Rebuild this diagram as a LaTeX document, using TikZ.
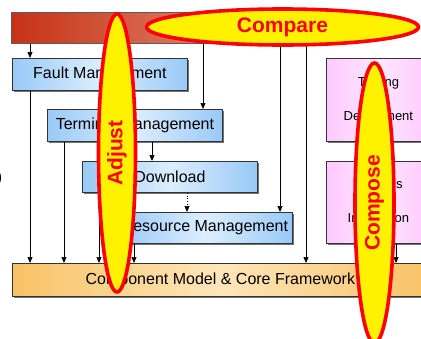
\documentclass[tikz,border=0pt]{standalone}
\usepackage{fontspec}
\setmainfont{Liberation Sans}
\usetikzlibrary{arrows.meta,shadows,calc}
\definecolor{barL}{HTML}{C63216}
\definecolor{barR}{HTML}{EAA48C}
\definecolor{blueE}{HTML}{99C9F7}
\definecolor{blueM}{HTML}{DCEEFF}
\definecolor{pinkE}{HTML}{FFC8FF}
\definecolor{pinkM}{HTML}{FFE8FF}
\definecolor{orE}{HTML}{F8C266}
\definecolor{orM}{HTML}{FEE6BA}
\definecolor{edge}{HTML}{333333}
\tikzset{
  boxbase/.style={anchor=north west, inner sep=0pt, draw=edge, line width=0.8pt,
    drop shadow={shadow xshift=1.6pt, shadow yshift=-1.6pt, opacity=0.55, fill=black}},
  bluebox/.style={boxbase, minimum width=175pt, minimum height=32pt,
    left color=blueE, right color=blueE, middle color=blueM,
    font=\fontsize{16}{19}\selectfont},
  pinkbox/.style={boxbase, minimum width=104pt, minimum height=83pt, align=center,
    left color=pinkE, right color=pinkE, middle color=pinkM,
    font=\fontsize{13}{15.6}\selectfont},
  orbox/.style={boxbase, minimum width=416pt, minimum height=33pt,
    left color=orE, right color=orE, middle color=orM,
    font=\fontsize{16}{19}\selectfont},
  topbar/.style={anchor=north west, inner sep=0pt, draw=edge!80, line width=0.8pt,
    minimum width=309pt, minimum height=31pt, left color=barL, right color=barR},
  arr/.style={line width=0.7pt, -{Triangle[length=6pt,width=5pt]}},
  bubble/.style={ellipse, draw=red, fill=yellow, line width=3.6pt, inner sep=0pt,
    text=red, font=\fontsize{21}{25}\selectfont\bfseries},
}
\usetikzlibrary{shapes.geometric}
\begin{document}
\begin{tikzpicture}[x=1pt,y=-1pt]
\useasboundingbox (0,0) rectangle (421,338);
\clip (0,0) rectangle (421,338);
% boxes
\node[topbar] (bar) at (11,12) {};
\node[bluebox] (fault) at (12,58) {Fault Management};
\node[bluebox] (term) at (47,109) {Terminal Management};
\node[bluebox, minimum height=31pt] (down) at (82,161) {Download};
\node[bluebox, minimum height=31pt] (res) at (117,212) {Resource Management};
\node[pinkbox] (test) at (326,58) {Testing\\[18.4pt]Deployment};
\node[pinkbox, minimum height=82pt] (anal) at (326,161) {Analysis\\[18.4pt]Integration};
\node[orbox] (comp) at (12,263) {Component Model \& Core Framework};
\node[anchor=east, inner sep=0pt, font=\fontsize{16}{19}\selectfont] (frag) at (2.5,178) {)};
% connectors
\draw[arr] ([xshift=19pt]bar.south west) -- ([xshift=18pt]fault.north west);
\draw[arr] ([xshift=192pt]bar.south west) -- ([xshift=156pt]term.north west);
\draw[arr] ([xshift=269pt]bar.south west) -- ([xshift=163pt]res.north west);
\draw[arr] ([xshift=295pt]bar.south west) -- ([xshift=294pt]comp.north west);
\draw[arr] ([xshift=105pt]term.south west) -- ([xshift=70pt]down.north west);
\draw[arr, dotted] ([xshift=105pt]down.south west) -- ([xshift=70pt]res.north west);
\draw[arr] ([xshift=18pt]fault.south west) -- ([xshift=18pt]comp.north west);
\draw[arr] ([xshift=17pt]term.south west) -- ([xshift=52pt]comp.north west);
\draw[arr] ([xshift=17pt]down.south west) -- ([xshift=87pt]comp.north west);
\draw[arr] ([xshift=17pt]res.south west) -- ([xshift=122pt]comp.north west);
\draw[arr] ([xshift=70pt]anal.south west) -- ([xshift=384pt]comp.north west);
% bubbles
\node[bubble, minimum width=272pt, minimum height=36pt] (compare) at (282.5,27) {Compare};
\node[bubble, minimum width=37pt, minimum height=278pt] (adjust) at (117,153) {};
\node[text=red, font=\fontsize{21}{25}\selectfont\bfseries, rotate=90] (adjustlbl) at (adjust.center) {Adjust};
\node[bubble, minimum width=39pt, minimum height=280pt] (compose) at (374.5,203) {};
\node[text=red, font=\fontsize{21}{25}\selectfont\bfseries, rotate=90] (composelbl) at (compose.center) {Compose};
\end{tikzpicture}
\end{document}
